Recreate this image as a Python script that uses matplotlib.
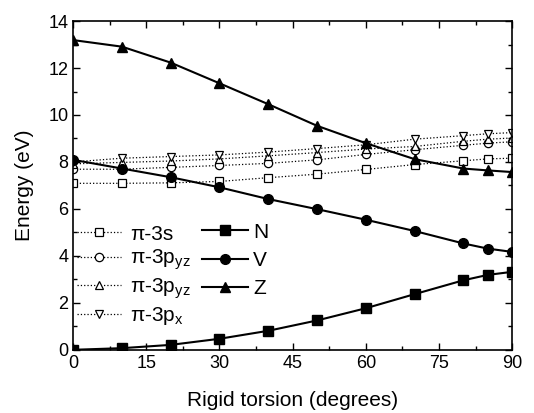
import numpy as np
import matplotlib
matplotlib.use('Agg')
import matplotlib.pyplot as plt
from matplotlib.ticker import MultipleLocator

plt.rcParams['font.family'] = ['Liberation Sans', 'DejaVu Sans']
plt.rcParams['mathtext.fontset'] = 'custom'
plt.rcParams['mathtext.rm'] = 'Liberation Sans'
plt.rcParams['mathtext.it'] = 'Liberation Sans:italic'

# torsion angles (degrees)
angle = [0, 10, 20, 30, 40, 50, 60, 70, 80, 85, 90]

# valence states
N = [0.0, 0.07, 0.21, 0.47, 0.81, 1.25, 1.77, 2.37, 2.96, 3.19, 3.32]
V = [8.09, 7.72, 7.35, 6.92, 6.42, 5.99, 5.54, 5.06, 4.53, 4.31, 4.17]
Z = [13.19, 12.91, 12.23, 11.35, 10.46, 9.54, 8.80, 8.12, 7.72, 7.64, 7.57]

# Rydberg states
ryd_3s = [7.09, 7.09, 7.11, 7.17, 7.33, 7.48, 7.68, 7.89, 8.05, 8.13, 8.16]
ryd_3pyz_a = [7.69, 7.69, 7.77, 7.85, 7.94, 8.09, 8.32, 8.52, 8.71, 8.80, 8.86]
ryd_3pyz_b = [7.92, 7.98, 8.04, 8.13, 8.26, 8.40, 8.55, 8.66, 8.88, 8.97, 9.02]
ryd_3px = [8.0, 8.16, 8.23, 8.30, 8.42, 8.57, 8.73, 8.97, 9.12, 9.20, 9.25]

fig = plt.figure(figsize=(5.34, 4.13), dpi=100)
ax = fig.add_axes([0.137, 0.153, 0.822, 0.796])

dot = dict(color='black', ls=':', lw=0.9, mfc='white', mec='black', mew=0.9, ms=6)
r1, = ax.plot(angle, ryd_3s, marker='s', **dot)
r2, = ax.plot(angle, ryd_3pyz_a, marker='o', **dot)
r3, = ax.plot(angle, ryd_3pyz_b, marker='^', **dot)
r4, = ax.plot(angle, ryd_3px, marker='v', **dot)

sol = dict(color='black', ls='-', lw=1.5, ms=7)
v1, = ax.plot(angle, N, marker='s', **sol)
v2, = ax.plot(angle, V, marker='o', **sol)
v3, = ax.plot(angle, Z, marker='^', **sol)

ax.set_xlim(0, 90)
ax.set_ylim(0, 14)
ax.xaxis.set_major_locator(MultipleLocator(15))
ax.xaxis.set_minor_locator(MultipleLocator(7.5))
ax.yaxis.set_major_locator(MultipleLocator(2))
ax.yaxis.set_minor_locator(MultipleLocator(1))
ax.tick_params(which='both', direction='in', top=True, right=True, labelsize=13, width=1)
ax.tick_params(which='major', length=5)
ax.tick_params(which='minor', length=3)
for s in ax.spines.values():
    s.set_linewidth(1.2)

ax.set_xlabel('Rigid torsion (degrees)', fontsize=15, labelpad=14)
ax.set_ylabel('Energy (eV)', fontsize=15, labelpad=10)

leg1 = ax.legend([r1, r2, r3, r4],
                 ['π-3s', 'π-3p$_\\mathregular{yz}$', 'π-3p$_\\mathregular{yz}$', 'π-3p$_\\mathregular{x}$'],
                 loc='center left', bbox_to_anchor=(0.009, 0.225), frameon=False,
                 fontsize=15, handlelength=2.1, handletextpad=0.45, labelspacing=0.2,
                 borderaxespad=0, borderpad=0)
ax.add_artist(leg1)
ax.legend([v1, v2, v3], ['N', 'V', 'Z'],
          loc='center left', bbox_to_anchor=(0.294, 0.272), frameon=False,
          fontsize=15, handlelength=2.2, handletextpad=0.25, labelspacing=0.45,
          borderaxespad=0, borderpad=0)

fig.savefig('out.png', dpi=100)
